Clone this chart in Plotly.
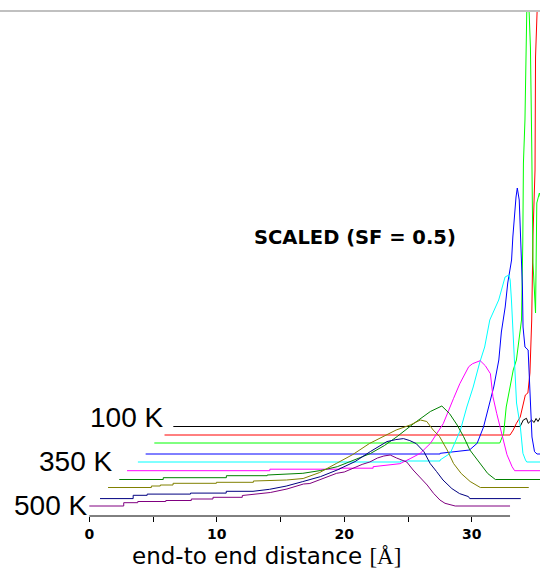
import plotly.graph_objects as go

# ---- data: end-to-end distance (Å) and scaled probability per temperature ----
D_100 = [0, 27.2, 27.45, 27.7, 27.84, 28.1, 28.3, 28.45, 28.6, 28.84]
P_100 = [0, 0, 6.5, 8.2, 3.2, 6.5, 4, 8, 5, 10]

D_150 = [0, 27.1, 27.35, 27.6, 27.9, 28.3, 28.5, 28.66, 28.8, 28.9, 29.06, 29.1, 29.24, 29.45]
P_150 = [0, 0, 5, 11.7, 18, 40, 42, 62, 115, 200, 265, 378, 430, 520]

D_200 = [0, 27.1, 27.4, 27.6, 27.9, 28.15, 28.4, 28.7, 28.8, 28.9, 28.95, 29.07, 29.15,
         29.25, 29.4, 29.46, 29.5, 29.6, 29.7, 29.9, 30.0, 30.2, 30.4]
P_200 = [0, 0, 9.7, 36, 56, 73, 83, 110, 123, 200, 280, 323, 423,
         460, 430, 415, 395, 300, 180, 130, 240, 250, 240]

D_250 = [0, 23.1, 23.1, 25.4, 26.0, 26.5, 26.9, 27.3, 27.7, 27.9, 28.2, 28.4, 28.7, 28.8,
         29.05, 29.15, 29.3, 29.45, 29.55, 29.6, 29.75, 30.0, 30.15, 30.3, 30.5, 30.7, 33.0]
P_250 = [0, 0, 0.7, 4, 10.7, 27, 47, 67, 94, 122, 147, 171, 194, 217,
         257, 266, 254, 207, 167, 127, 107, 104, 67, 17, 2.3, 0, 0]

D_300 = [0, 20.6, 20.6, 23.7, 23.7, 24.5, 25.3, 25.8, 26.3, 26.8, 27.2, 27.6, 28.3, 28.8,
         29.1, 29.2, 29.3, 29.4, 29.7, 30.0, 30.2, 30.4, 30.5, 33.0]
P_300 = [0, 0, 1, 1, 2, 8.7, 32, 55, 75, 99, 115, 142, 162, 185,
         187, 182, 162, 132, 59, 35, 8.7, 2, 0, 0]

D_350 = [0, 11.2, 11.2, 16.7, 16.7, 19.3, 19.3, 21.4, 22.2, 23.0, 23.8, 24.8, 25.6, 26.1,
         26.8, 27.1, 27.7, 28.1, 28.5, 28.7, 29.0, 29.4, 29.8, 30.2, 30.4, 33.0]
P_350 = [0, 0, 1.5, 1.5, 2.5, 2.5, 4, 7, 12, 17.4, 27.4, 47, 72, 87,
         104, 107, 110, 105, 97, 74, 57, 37, 16, 4, 0, 0]

D_400 = [0, 3.45, 3.45, 8.4, 8.4, 11.6, 11.6, 14.4, 15.8, 17.1, 18.4, 19.7, 20.8, 21.8,
         23.1, 24.4, 25.3, 25.9, 26.5, 27.0, 27.5, 28.3, 28.9, 29.5, 33.0]
P_400 = [0, 0, 1.8, 1.8, 3.8, 3.8, 4.5, 6.2, 9, 12.8, 19, 26, 34, 43,
         56, 68, 73.5, 66, 54.5, 43, 29.5, 16, 6, 0, 0]

D_450 = [0, 3.4, 3.4, 4.1, 4.1, 5.1, 5.1, 8.5, 8.5, 11.4, 11.4, 12.7, 14.0, 15.3, 16.6,
         17.9, 19.2, 20.5, 21.6, 22.6, 23.7, 24.5, 25.0, 25.5, 26.0, 26.6, 27.1, 27.7,
         28.4, 28.9, 29.2, 33.0]
P_450 = [0, 0, 1.5, 1.5, 2.5, 2.5, 4.2, 4.2, 5.2, 5.2, 6.5, 7, 7.5, 9, 15,
         24, 33, 44, 51, 57.5, 62.5, 67.5, 66, 57.5, 51, 37.5, 24, 14,
         6, 2.5, 0, 0]

D_475 = [0, 2.6, 2.6, 3.7, 3.7, 7.1, 7.1, 9.9, 9.9, 12.0, 13.3, 14.6, 15.9, 17.3, 18.6,
         20.0, 21.2, 22.5, 23.2, 23.8, 24.3, 24.8, 25.4, 25.9, 26.4, 26.9, 27.6, 28.2,
         28.9, 29.0, 33.0]
P_475 = [0, 0, 3.3, 3.3, 4.5, 4.5, 5.5, 5.5, 7.3, 7.3, 9.3, 12.5, 17, 22, 28.6,
         37, 47, 57, 59, 60, 58, 55, 47, 35, 27, 18.6, 10, 5,
         2, 0, 0]

D_500 = [0, 2.7, 2.7, 3.8, 3.8, 6.0, 6.0, 8.0, 8.0, 9.7, 9.7, 12.0, 12.0, 13.9, 14.2,
         15.5, 16.8, 17.3, 18.5, 19.4, 20.0, 21.4, 22.0, 22.6, 23.1, 23.6, 24.1, 24.5,
         24.9, 25.4, 25.9, 26.5, 27.0, 27.5, 27.9, 28.7, 33.0]
P_500 = [0, 0, 3.3, 3.3, 4.5, 4.5, 5.5, 5.5, 7, 7, 8.7, 8.7, 10.5, 12.7, 13.5,
         17, 22, 22.5, 28, 32.7, 34, 41.6, 44, 48, 50, 51, 48, 46,
         44, 36, 29, 21, 12.7, 6, 2.7, 0, 0]

SERIES_NAMES = ["100 K", "150 K", "200 K", "250 K", "300 K",
                "350 K", "400 K", "450 K", "475 K", "500 K"]
SERIES_D = [D_100, D_150, D_200, D_250, D_300, D_350, D_400, D_450, D_475, D_500]
SERIES_P = [P_100, P_150, P_200, P_250, P_300, P_350, P_400, P_450, P_475, P_500]

LABELS = ["100 K", "350 K", "500 K"]
TICK_VALUES = [0, 5, 10, 15, 20, 25, 30]
TICK_TEXT = ["0", "", "10", "", "20", "", "30"]

# ---- styling / waterfall layout constants ----
COLORS = ["#000000", "#ff0000", "#00ff00", "#0000ff", "#00ffff",
          "#ff00ff", "#008000", "#808000", "#000080", "#800080"]
X_SHIFT = [6.59, 5.90, 5.10, 4.42, 3.81, 2.96, 2.35, 1.47, 0.84, 0.0]
Y_SHIFT = [89.5, 81.0, 73.0, 62.0, 54.0, 45.3, 36.5, 28.5, 17.4, 10.0]

fig = go.Figure()
for name, d, p, c, dx, dy in zip(SERIES_NAMES, SERIES_D, SERIES_P, COLORS, X_SHIFT, Y_SHIFT):
    fig.add_trace(go.Scatter(
        x=[v + dx for v in d], y=[v + dy for v in p], mode="lines", name=name,
        line=dict(color=c, width=1), showlegend=False, hoverinfo="skip"))

label_pos = {"100 K": (5.95, 98.5), "350 K": (1.95, 55.0), "500 K": (0.0, 11.0)}
annotations = []
for lab in LABELS:
    x, y = label_pos[lab]
    annotations.append(dict(text=lab, x=x, y=y, xref="x", yref="y", xanchor="right",
                            yanchor="middle", showarrow=False,
                            font=dict(family="Liberation Sans, Arial", size=28, color="black")))
annotations.append(dict(text="SCALED (SF = 0.5)", x=12.74, y=279, xref="x", yref="y",
                        xanchor="left", yanchor="middle", showarrow=False,
                        font=dict(family="DejaVu Sans", size=19.5, weight="bold", color="black")))
annotations.append(dict(text="end-to end distance <span style=\"font-family:Liberation Serif\">[Å]</span>",
                        x=13.91, y=-40.2 / 505, xref="x", yref="paper", xanchor="center",
                        yanchor="middle", showarrow=False, borderpad=0,
                        font=dict(family="DejaVu Sans", size=23, color="black")))

fig.update_layout(
    width=540, height=569,
    margin=dict(l=0, r=0, t=11, b=53),
    paper_bgcolor="white", plot_bgcolor="white",
    annotations=annotations,
    shapes=[
        dict(type="line", xref="x", yref="paper", x0=0, x1=33, y0=0, y1=0,
             line=dict(color="black", width=1)),
        dict(type="line", xref="paper", yref="paper", x0=0, x1=1, y0=1, y1=1,
             line=dict(color="#c0c0c0", width=2)),
    ],
    xaxis=dict(range=[-7.004, 35.35], showgrid=False, zeroline=False, showline=False,
               ticks="outside", ticklen=5, tickwidth=1, tickcolor="black",
               tickvals=TICK_VALUES, ticktext=TICK_TEXT,
               tickfont=dict(family="DejaVu Sans", size=14, weight="bold", color="black")),
    yaxis=dict(range=[0, 505], visible=False),
)

fig.write_html("out.html", config={"displayModeBar": False},
               post_script="document.body.style.margin='0';document.body.style.overflow='hidden';")
